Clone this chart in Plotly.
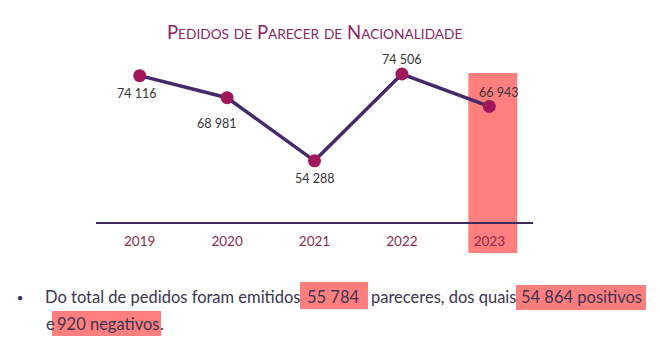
import plotly.graph_objects as go

years = [2019, 2020, 2021, 2022, 2023]
pedidos = [74116, 68981, 54288, 74506, 66943]
year_labels = ["2019", "2020", "2021", "2022", "2023"]
label_pos = ["below-left", "below-left", "below", "above", "above-right"]

highlight_year = 2023

FONT = "Lato, Open Sans, sans-serif"
LINE_C = "#45296A"
MARK_C = "#A0185A"
TITLE_C = "#8E2462"
TICK_C = "#8B2B4B"
TXT_C = "#3B3550"
HL = "#FF7F7F"

def fmt(v):
    return f"{v:,}".replace(",", " ")

fig = go.Figure()
fig.add_trace(go.Scatter(
    x=years, y=pedidos, mode="lines+markers",
    line=dict(color=LINE_C, width=3.5),
    marker=dict(color=MARK_C, size=13),
    hoverinfo="skip", cliponaxis=False,
))

shifts = {"below-left": (-3, -18), "below": (0, -18), "above": (0, 15), "above-right": (9, 14)}
for x, v, p in zip(years, pedidos, label_pos):
    dx, dy = shifts[p]
    if x == 2020:
        dx, dy = -11, -26
    fig.add_annotation(x=x, y=v, text=fmt(v), showarrow=False,
                       xshift=dx, yshift=dy,
                       font=dict(family=FONT, size=12.5, color="#333333"))

# highlight rectangle for 2023
fig.add_shape(type="rect", xref="x", yref="paper",
              x0=highlight_year - 0.24, x1=highlight_year + 0.32,
              y0=-0.183, y1=0.915, fillcolor=HL, line=dict(width=0), layer="below")
# baseline
fig.add_shape(type="line", xref="paper", yref="paper", x0=0, x1=1, y0=0, y1=0,
              line=dict(color="#3C2A5C", width=2), layer="above")

# title with small caps
def small_caps(s, small=14):
    out = []
    for w in s.split(" "):
        if w.lower() == "de":
            out.append(f"<span style='font-size:{small}px'>{w.upper()}</span>")
        else:
            out.append(f"{w[0]}<span style='font-size:{small}px'>{w[1:].upper()}</span>")
    return " ".join(out)

fig.add_annotation(xref="paper", yref="paper", x=0.499, y=1.0, yshift=14,
                   xanchor="center", yanchor="bottom", showarrow=False,
                   text=small_caps("Pedidos de Parecer de Nacionalidade", small=13.7),
                   font=dict(family=FONT, size=18.5, color=TITLE_C))

# bullet text with highlights (pixel-positioned in paper coords)
W, H = 660, 342
L, R, T, B = 96, 127, 59, 119
pw, ph = W - L - R, H - T - B

def px(x):
    return (x - L) / pw

def py(y):
    return (H - B - y) / ph

hl_boxes = [(300, 368, 282, 309), (516, 646, 285, 310), (52, 161, 311, 336)]
for x0, x1, y0, y1 in hl_boxes:
    fig.add_shape(type="rect", xref="paper", yref="paper",
                  x0=px(x0), x1=px(x1), y0=py(y1), y1=py(y0),
                  fillcolor=HL, line=dict(width=0), layer="below")

segments = [
    ("Do total de pedidos foram emitidos", 43, 297),
    ("55 784", 305, 297),
    ("pareceres, dos quais", 369, 297),
    ("54 864 positivos", 519, 297),
    ("e", 44, 324),
    ("920 negativos", 55, 324),
    (".", 158, 324),
]
for t, x, y in segments:
    fig.add_annotation(xref="paper", yref="paper", x=px(x), y=py(y),
                       xanchor="left", yanchor="middle", showarrow=False,
                       text=t, font=dict(family=FONT, size=16.5, color=TXT_C))
fig.add_annotation(xref="paper", yref="paper", x=px(20), y=py(297),
                   xanchor="center", yanchor="middle", showarrow=False,
                   text="●", font=dict(size=10, color="#3B2A6A"))

fig.update_layout(
    width=W, height=H,
    margin=dict(l=L, r=R, t=T, b=B),
    paper_bgcolor="white", plot_bgcolor="white",
    showlegend=False,
    xaxis=dict(range=[2018.5, 2023.5], tickvals=years, ticktext=year_labels,
               showgrid=False, zeroline=False, showline=False, ticks="",
               tickfont=dict(family=FONT, size=13.5, color=TICK_C), ticklabelstandoff=8),
    yaxis=dict(range=[39800, 78000], visible=False, showgrid=False),
)

fig.write_html("out.html")
